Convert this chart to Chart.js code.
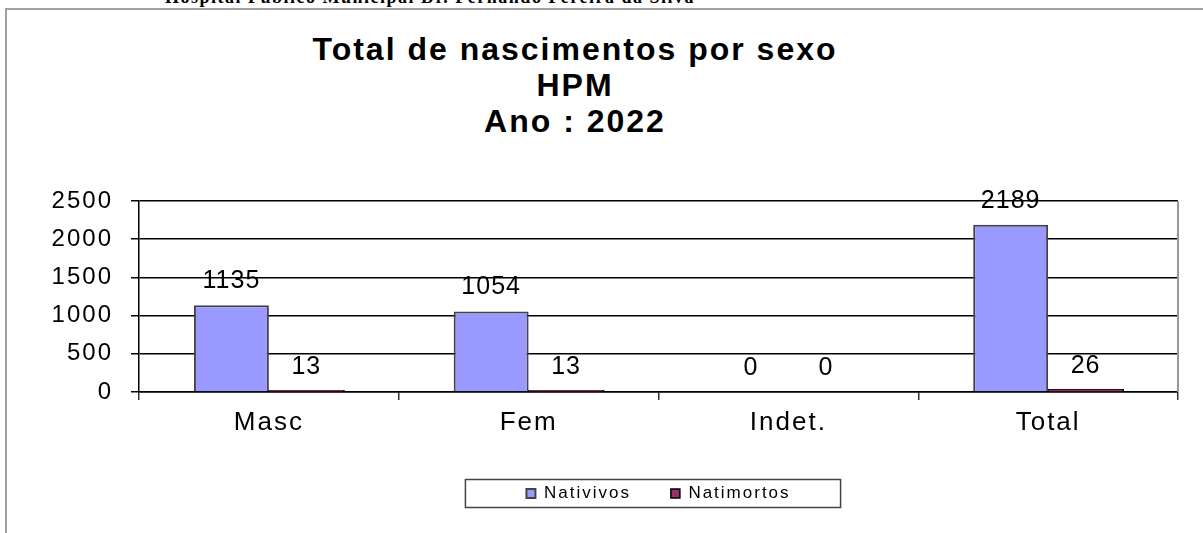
<!DOCTYPE html>
<html>
<head>
    <title>Total de nascimentos por sexo</title>
    <script src="https://cdn.jsdelivr.net/npm/chart.js"></script>
    <style>
        * { margin: 0; padding: 0; box-sizing: border-box; }
        body { width: 1203px; height: 533px; background: white; position: relative; overflow: hidden; }
        .hospital {
            position: absolute; left: 165px; top: -12px;
            font-family: "Liberation Serif", serif; font-weight: bold; font-size: 18px; line-height: 18px;
            letter-spacing: 1.5px; color: black; white-space: nowrap;
        }
        .frame {
            position: absolute; left: 5px; top: 8px; width: 1210px; height: 540px;
            border-top: 2px solid #a0a0a0; border-left: 2px solid #a0a0a0;
        }
        .title {
            position: absolute; left: 0; top: 31px; width: 1150px; text-align: center;
            font-family: "Liberation Sans", Arial, sans-serif; font-weight: bold; font-size: 32px;
            line-height: 36px; letter-spacing: 2px; color: black;
        }
        .chart-container { position: absolute; left: 0; top: 0; width: 1203px; height: 533px; }
    </style>
</head>
<body>
    <div class="hospital">Hospital Público Municipal Dr. Fernando Pereira da Silva</div>
    <div class="frame"></div>
    <div class="title">Total de nascimentos por sexo<br>HPM<br>Ano : 2022</div>
    <div class="chart-container">
        <canvas id="nascChart"></canvas>
    </div>

    <script>
        const categorias = ['Masc', 'Fem', 'Indet.', 'Total'];
        const nativivos = [1135, 1054, 0, 2189];
        const natimortos = [13, 13, 0, 26];
        const yTicks = [0, 500, 1000, 1500, 2000, 2500];

        const fontName = '"Liberation Sans", Arial, sans-serif';

        // texto do excel vem com letras espaçadas
        const spacing = {
            id: 'spacing',
            beforeLayout(chart) { chart.ctx.letterSpacing = '2px'; },
            beforeDraw(chart) { chart.ctx.letterSpacing = '2px'; }
        };

        // valores em cima das barras
        const valueLabels = {
            id: 'valueLabels',
            afterDatasetsDraw(chart) {
                const ctx = chart.ctx;
                ctx.save();
                ctx.letterSpacing = '1px';
                ctx.font = '25px ' + fontName;
                ctx.fillStyle = 'black';
                ctx.textAlign = 'center';
                ctx.textBaseline = 'middle';
                chart.data.datasets.forEach((ds, i) => {
                    chart.getDatasetMeta(i).data.forEach((bar, j) => {
                        ctx.fillText(String(ds.data[j]), bar.x, bar.y - 24);
                    });
                });
                ctx.restore();
            }
        };

        // borda direita cinza do grafico e caixa da legenda
        const extras = {
            id: 'extras',
            afterDraw(chart) {
                const ctx = chart.ctx;
                const a = chart.chartArea;
                ctx.save();
                ctx.strokeStyle = '#999';
                ctx.lineWidth = 2;
                ctx.beginPath();
                ctx.moveTo(a.right, a.top);
                ctx.lineTo(a.right, a.bottom);
                ctx.stroke();

                const boxes = chart.legend.legendHitBoxes;
                if (boxes && boxes.length) {
                    const first = boxes[0];
                    const last = boxes[boxes.length - 1];
                    const left = first.left - 61;
                    const right = last.left + last.width + 50;
                    ctx.strokeStyle = '#444';
                    ctx.lineWidth = 1.5;
                    ctx.strokeRect(left, first.top - 5.5, right - left, 28);
                }
                ctx.restore();
            }
        };

        new Chart(document.getElementById('nascChart'), {
            type: 'bar',
            data: {
                labels: categorias,
                datasets: [
                    {
                        label: 'Nativivos',
                        data: nativivos,
                        backgroundColor: '#9999FF',
                        borderColor: '#444444',
                        borderWidth: 2,
                        categoryPercentage: 0.577,
                        barPercentage: 1
                    },
                    {
                        label: 'Natimortos',
                        data: natimortos,
                        backgroundColor: '#993366',
                        borderColor: '#000000',
                        borderWidth: 1.5,
                        inflateAmount: c => (c.raw > 0 ? 1 : 0),
                        categoryPercentage: 0.577,
                        barPercentage: 1
                    }
                ]
            },
            options: {
                responsive: true,
                maintainAspectRatio: false,
                animation: false,
                layout: {
                    padding: { left: 10, top: 201, right: 25, bottom: 21 }
                },
                scales: {
                    x: {
                        grid: {
                            offset: true,
                            drawOnChartArea: false,
                            color: '#333',
                            tickLength: 8,
                            lineWidth: 1.5
                        },
                        border: { color: '#000', width: 1.5 },
                        ticks: {
                            color: 'black',
                            font: { family: fontName, size: 26 },
                            padding: 7
                        },
                        afterFit(scale) { scale.height = 53; }
                    },
                    y: {
                        min: 0,
                        max: 2500,
                        afterBuildTicks(scale) {
                            scale.ticks = yTicks.map(v => ({ value: v }));
                        },
                        grid: {
                            color: '#000',
                            lineWidth: 1.5,
                            tickLength: 8
                        },
                        border: { color: '#000', width: 1.5 },
                        ticks: {
                            color: 'black',
                            font: { family: fontName, size: 24 },
                            padding: 18,
                            callback: v => String(v)
                        },
                        afterFit(scale) { scale.width = 129; }
                    }
                },
                plugins: {
                    legend: {
                        position: 'bottom',
                        fullSize: false,
                        labels: {
                            color: 'black',
                            font: { family: fontName, size: 17 },
                            boxWidth: 9,
                            boxHeight: 9,
                            padding: 40,
                            useBorderRadius: false
                        }
                    },
                    tooltip: { enabled: false }
                }
            },
            plugins: [spacing, valueLabels, extras]
        });
    </script>
</body>
</html>
